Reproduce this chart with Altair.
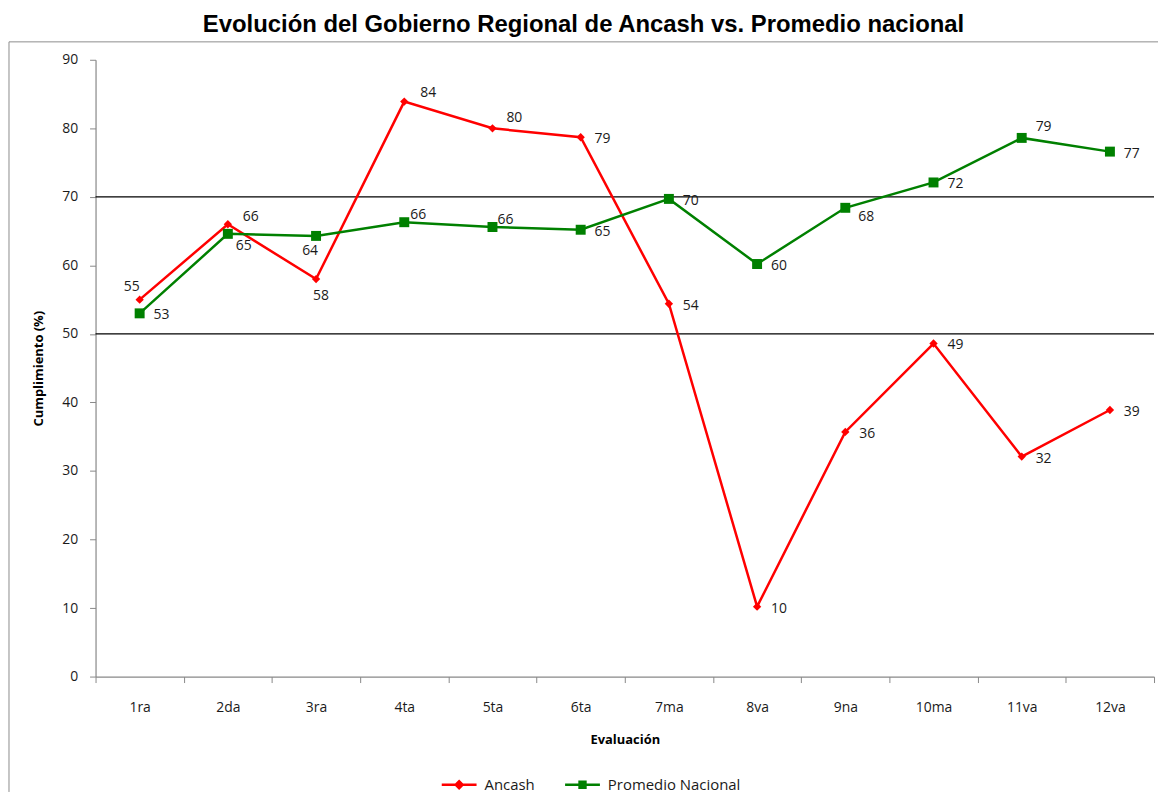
import altair as alt
import pandas as pd

# ---------------- data ----------------
categories = ["1ra", "2da", "3ra", "4ta", "5ta", "6ta", "7ma", "8va", "9na", "10ma", "11va", "12va"]
ancash = [55.0, 66.0, 58.0, 83.9, 80.0, 78.7, 54.4, 10.2, 35.7, 48.6, 32.1, 38.9]
promedio = [53.0, 64.6, 64.3, 66.3, 65.6, 65.2, 69.7, 60.2, 68.4, 72.1, 78.6, 76.6]
series_names = ["Ancash", "Promedio Nacional"]
series_colors = ["#FF0000", "#008000"]
reference_lines = [50, 70]
y_ticks = [0, 10, 20, 30, 40, 50, 60, 70, 80, 90]
title_text = "Evolución del Gobierno Regional de Ancash vs. Promedio nacional"

W, H = 1064, 620
FONT = "Open Sans"

records = []
for cat, a, p in zip(categories, ancash, promedio):
    records.append({"evaluacion": cat, "serie": series_names[0], "valor": a})
    records.append({"evaluacion": cat, "serie": series_names[1], "valor": p})
df = pd.DataFrame(records)

# label placement (pixels from the marker); default: right of the marker
default_offset = (22, 2)
label_offsets = {
    ("Ancash", "1ra"): (-8, -13),
    ("Ancash", "2da"): (23, -7),
    ("Ancash", "3ra"): (5, 17),
    ("Ancash", "4ta"): (24, -9),
    ("Ancash", "5ta"): (22, -10),
    ("Promedio Nacional", "2da"): (16, 12),
    ("Promedio Nacional", "3ra"): (-6, 15),
    ("Promedio Nacional", "4ta"): (14, -7),
    ("Promedio Nacional", "5ta"): (13, -7),
    ("Promedio Nacional", "9na"): (21, 9),
    ("Promedio Nacional", "11va"): (22, -11),
}
df["pos"] = [
    "%d_%d" % label_offsets.get((s, c), default_offset)
    for s, c in zip(df["serie"], df["evaluacion"])
]

# ---------------- encodings ----------------
x_enc = alt.X(
    "evaluacion:N",
    sort=categories,
    bandPosition=0.5,
    scale=alt.Scale(type="band", domain=categories, paddingInner=0, paddingOuter=0),
    axis=alt.Axis(
        title="Evaluación",
        tickBand="extent",
        labelAngle=0,
        tickSize=6,
        labelPadding=18,
        titlePadding=19,
    ),
)
y_enc = alt.Y(
    "valor:Q",
    scale=alt.Scale(domain=[0, 90], nice=False, zero=True),
    axis=alt.Axis(
        title="Cumplimiento (%)",
        values=y_ticks,
        grid=False,
        tickSize=6,
        labelPadding=12,
        titlePadding=16,
    ),
)

# legend symbols: a short (filled) line with the series marker on it
path_a = "M-1,-0.07L1,-0.07L1,0.07L-1,0.07Z M0,-0.3L0.3,0L0,0.3L-0.3,0Z"
path_p = "M-1,-0.07L1,-0.07L1,0.07L-1,0.07Z M-0.24,-0.24L0.24,-0.24L0.24,0.24L-0.24,0.24Z"

color_scale = alt.Scale(domain=series_names, range=series_colors)


def make_legend():
    return alt.Legend(
        title=None,
        orient="none",
        legendX=348,
        legendY=711,
        direction="horizontal",
        symbolSize=1225,
        symbolStrokeWidth=0,
        symbolOpacity=1,
        labelFont=FONT,
        labelFontSize=15,
        labelColor="#1a1a1a",
        labelOffset=8,
        columnPadding=30,
    )


base = alt.Chart(df)

lines = base.mark_line(strokeWidth=2.5).encode(
    x=x_enc,
    y=y_enc,
    color=alt.Color("serie:N", scale=color_scale, legend=None),
    detail="serie:N",
)

points_a = base.transform_filter(alt.datum.serie == series_names[0]).mark_point(
    filled=True, opacity=1, shape="diamond", size=70, color=series_colors[0]
).encode(x=x_enc, y=y_enc)
points_p = base.transform_filter(alt.datum.serie == series_names[1]).mark_point(
    filled=True, opacity=1, shape="square", size=100, color=series_colors[1]
).encode(x=x_enc, y=y_enc)

# invisible layer that only feeds the legend
legend_layer = base.mark_point(filled=True, opacity=0, size=1225).encode(
    x=x_enc,
    y=y_enc,
    color=alt.Color("serie:N", scale=color_scale, legend=make_legend()),
    shape=alt.Shape("serie:N", scale=alt.Scale(domain=series_names, range=[path_a, path_p]),
                    legend=make_legend()),
)

ref_rules = alt.Chart(pd.DataFrame({"ref": reference_lines})).mark_rule(
    color="black", strokeWidth=1.3
).encode(y=alt.Y("ref:Q"))

label_layers = []
for key in sorted(df["pos"].unique()):
    dx, dy = [int(v) for v in key.split("_")]
    label_layers.append(
        base.transform_filter(alt.datum.pos == key)
        .mark_text(font=FONT, fontSize=14, color="#1a1a1a", dx=dx, dy=dy, align="center", baseline="middle")
        .encode(x=x_enc, y=y_enc, text=alt.Text("valor:Q", format=".0f"))
    )

frame_src = pd.DataFrame({"k": [0]})
frame_top = alt.Chart(frame_src).mark_rule(color="#8c8c8c", strokeWidth=1).encode(
    x=alt.value(-87), x2=alt.value(W + 4), y=alt.value(-18)
)
frame_left = alt.Chart(frame_src).mark_rule(color="#8c8c8c", strokeWidth=1).encode(
    x=alt.value(-87), y=alt.value(-18), y2=alt.value(H + 116)
)

chart = (
    alt.layer(frame_top, frame_left, ref_rules, lines, points_a, points_p, legend_layer, *label_layers)
    .resolve_legend(color="independent", shape="independent")
    .properties(
        width=W,
        height=H,
        padding={"left": 0, "top": 3, "right": 0, "bottom": 0},
        title=alt.TitleParams(
            title_text,
            font="Liberation Sans",
            fontSize=24,
            fontWeight="bold",
            color="black",
            anchor="middle",
            frame="bounds",
            offset=4,
        ),
    )
    .configure_view(stroke=None)
    .configure_axis(
        labelFont=FONT,
        labelFontSize=14,
        labelColor="#1a1a1a",
        titleFont=FONT,
        titleFontSize=13,
        titleFontWeight="bold",
        titleColor="black",
        domainColor="#888888",
        tickColor="#888888",
        domainWidth=1.2,
    )
)

chart.save("out.html", embed_options={"renderer": "svg", "actions": False})
